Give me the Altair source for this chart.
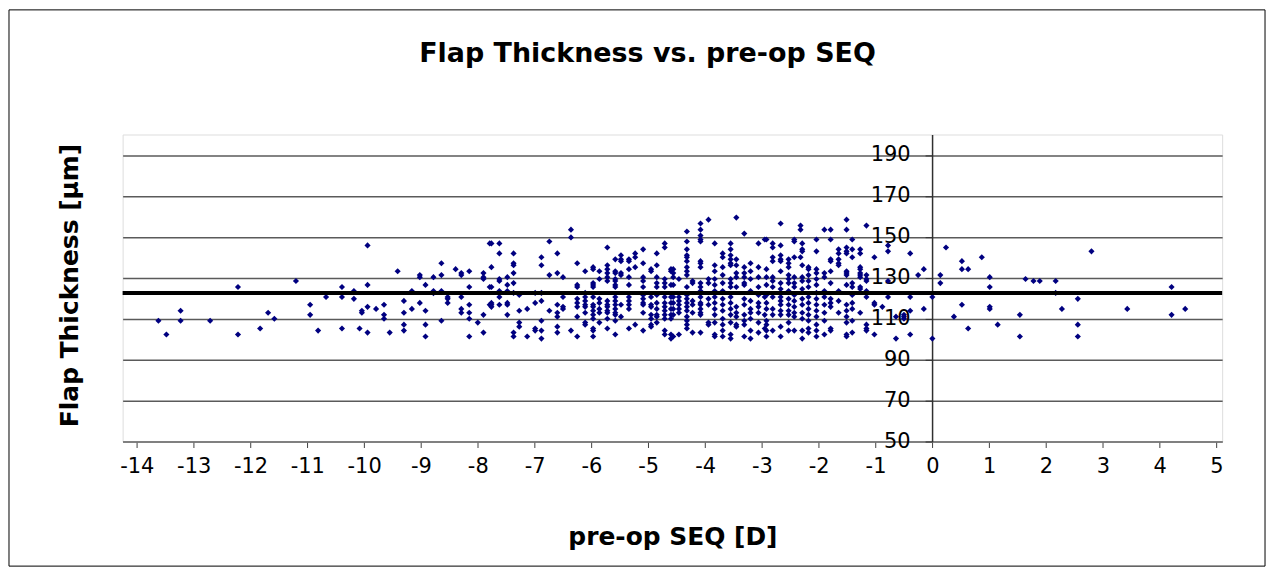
import altair as alt
import pandas as pd

# ---- sparse points, left side ----
left_seq = [-13.62, -13.48, -13.23, -13.23, -12.71, -12.22, -12.22, -11.83, -11.69, -11.58, -11.2,
            -10.95, -10.95, -10.81, -10.67, -10.39, -10.39, -10.39, -10.18, -10.18, -10.08, -10.04,
            -10.04, -9.94, -9.94, -9.94, -9.94, -9.79, -9.65, -9.65, -9.65, -9.55, -9.41]
left_flap = [109, 102.3, 113.9, 109, 109, 125.5, 102.3, 105.2, 112.9, 110, 128.4,
             116.8, 111.9, 104.2, 120.6, 125.5, 120.6, 105.2, 123.5, 119.7, 105.2, 113.9,
             112.9, 145.8, 126.5, 115.8, 103.2, 114.8, 116.8, 111.9, 110, 103.2, 133.2]

# ---- medium density, -9.3 .. -7.8 ----
mid1_seq = [-9.3, -9.3, -9.3, -9.3, -9.16, -9.16, -9.02, -9.02, -9.02, -8.92, -8.92, -8.92, -8.92,
            -8.78, -8.78, -8.78, -8.64, -8.64, -8.64, -8.64, -8.53, -8.53, -8.53, -8.39, -8.29,
            -8.29, -8.29, -8.29, -8.29, -8.15, -8.15, -8.15, -8.15, -8.15, -8.15, -8.0, -7.9,
            -7.9, -7.9, -7.9, -7.9, -7.79, -7.79, -7.79]
mid1_flap = [118.7, 112.9, 107.1, 104.2, 123.5, 114.8, 131.3, 130.3, 117.7, 126.5, 113.9, 107.1, 101.3,
             130.3, 123.5, 122.5, 137.1, 131.3, 123.5, 109, 120.6, 119.7, 117.7, 134.2, 132.3,
             131.3, 120.6, 114.8, 112.9, 133.2, 125.5, 116.8, 112.9, 110, 101.3, 108.1, 132.3,
             130.3, 129.4, 111.9, 103.2, 146.8, 125.5, 116.8]

# ---- medium density, -7.8 .. -6.2 ----
mid2_seq = [-7.76, -7.76, -7.76, -7.76, -7.76, -7.76, -7.62, -7.62, -7.62, -7.62, -7.62, -7.62, -7.62,
            -7.48, -7.48, -7.48, -7.48, -7.48, -7.48, -7.37, -7.37, -7.37, -7.37, -7.37, -7.37,
            -7.37, -7.37, -7.27, -7.27, -7.27, -7.27, -7.13, -7.13, -6.99, -6.99, -6.99, -6.99,
            -6.88, -6.88, -6.88, -6.88, -6.88, -6.88, -6.88, -6.74, -6.74, -6.74, -6.6, -6.6,
            -6.6, -6.6, -6.6, -6.6, -6.6, -6.5, -6.5, -6.5, -6.5, -6.36, -6.36, -6.36, -6.25,
            -6.25, -6.25, -6.25, -6.25, -6.25, -6.25, -6.25]
mid2_flap = [146.8, 135.2, 125.5, 117.7, 116.8, 115.8, 146.8, 141.9, 129.4, 128.4, 123.5, 120.6, 116.8,
             130.3, 126.5, 123.5, 117.7, 116.8, 111.9, 141.9, 137.1, 136.1, 132.3, 127.4, 122.6,
             103.2, 101.3, 121.6, 113.9, 108.1, 106.1, 114.8, 101.3, 122.6, 117.7, 105.2, 104.2,
             140, 136.1, 122.6, 118.7, 109, 104.2, 100.3, 147.7, 131.3, 113.9, 141.9, 132.3,
             116.8, 112.9, 111, 106.1, 103.2, 130.3, 120.6, 115.8, 114.8, 153.5, 149.7, 104.2, 137.1,
             126.5, 125.5, 119.7, 117.7, 115.8, 111, 101.3]

# ---- dense region, columns of points (-6.1 .. 0.25) ----
dense_col_seq = [-6.11, -5.97, -5.86, -5.72, -5.58, -5.48, -5.34, -5.23, -5.09, -4.95, -4.85, -4.71, -4.6,
                 -4.56, -4.46, -4.32, -4.22, -4.08, -3.94, -3.83, -3.69, -3.55, -3.45, -3.31, -3.2,
                 -3.06, -2.95,
                 -2.92, -2.81, -2.67, -2.53, -2.43, -2.32, -2.29, -2.18, -2.04, -1.9, -1.79, -1.65,
                 -1.51, -1.41,
                 -1.27, -1.16, -1.02, -0.88, -0.78, -0.64, -0.5, -0.39, -0.25, -0.15, 0.0, 0.14, 0.24]
dense_col_flap = [
    [133.2, 122.6, 120.6, 118.7, 116.8, 115.8, 112.9, 108.1, 107.1],
    [135.2, 134.2, 127.4, 126.5, 125.5, 120.6, 116.8, 115.8, 113.9, 111.9, 110, 105.2, 104.2, 101.3],
    [133.2, 129.4, 119.7, 117.7, 114.8, 112.9, 108.1],
    [144.8, 136.1, 134.2, 132.3, 130.3, 128.4, 118.7, 116.8, 115.8, 113.9, 112.9, 110, 105.2],
    [139, 133.2, 132.3, 129.4, 128.4, 126.5, 125.5, 120.6, 118.7, 116.8, 114.8, 112.9, 111.9, 109, 102.3],
    [141, 139, 138.1, 132.3, 131.3, 116.8, 111],
    [139, 138.1, 134.2, 130.3, 126.5, 120.6, 118.7, 116.8, 114.8, 105.2],
    [141.9, 140, 135.2, 107.1],
    [143.9, 137.1, 130.3, 128.4, 125.5, 121.6, 119.7, 117.7, 116.8, 112.9, 104.2],
    [134.2, 133.2, 120.6, 116.8, 115.8, 111.9, 110, 107.1, 106.1],
    [141.9, 136.1, 130.3, 127.4, 125.5, 121.6, 117.7, 114.8, 111.9, 111, 108.1],
    [146.8, 144.8, 129.4, 127.4, 125.5, 120.6, 117.7, 115.8, 113.9, 111.9, 110, 104.2, 102.3],
    [134.2, 133.2, 126.5, 120.6, 117.7, 114.8, 111.9, 110, 102.3, 100.3],
    [134.2, 132.3, 130.3, 126.5, 120.6, 117.7, 114.8, 111.9, 101.3],
    [129.4, 120.6, 118.7, 116.8, 114.8, 112.9, 102.3],
    [152.6, 147.7, 143.9, 141, 140, 138.1, 135.2, 133.2, 131.3, 125.5, 121.6, 119.7, 117.7, 115.8,
     113.9, 111, 109, 107.1, 105.2],
    [128.4, 127.4, 118.7, 116.8, 112.9, 103.2],
    [156.5, 153.5, 150.6, 148.7, 147.7, 138.1, 137.1, 135.2, 127.4, 125.5, 123.5, 120.6, 117.7, 116.8,
     114.8, 112.9, 111.9, 103.2],
    [158.4, 129.4, 127.4, 119.7, 116.8, 108.1, 107.1],
    [146.8, 136.1, 133.2, 129.4, 126.5, 123.5, 120.6, 117.7, 114.8, 111.9, 108.1, 102.3, 101.3],
    [141.9, 140, 135.2, 131.3, 127.4, 123.5, 119.7, 116.8, 113.9, 110, 107.1, 104.2, 101.3],
    [146.8, 143.9, 141, 139, 137.1, 136.1, 129.4, 127.4, 125.5, 120.6, 117.7, 114.8, 111.9, 108.1,
     102.3, 100.3],
    [159.4, 139, 136.1, 132.3, 130.3, 125.5, 115.8, 112.9, 111, 107.1, 106.1],
    [151.6, 135.2, 132.3, 130.3, 127.4, 126.5, 119.7, 116.8, 111.9, 109, 107.1, 101.3],
    [137.1, 133.2, 129.4, 123.5, 118.7, 114.8, 112.9, 110, 104.2, 100.3],
    [146.8, 135.2, 130.3, 125.5, 121.6, 117.7, 115.8, 112.9, 108.1, 103.2],
    [148.7, 120.6, 111.9, 105.2],
    [148.7, 134.2, 130.3, 126.5, 121.6, 117.7, 114.8, 109, 107.1, 104.2, 101.3],
    [146.8, 144.8, 140, 138.1, 130.3, 128.4, 125.5, 120.6, 114.8, 111.9, 104.2],
    [156.5, 145.8, 141, 139, 138.1, 133.2, 127.4, 124.5, 120.6, 118.7, 116.8, 113.9, 111.9, 106.1, 101.3],
    [139, 137.1, 135.2, 131.3, 129.4, 127.4, 123.5, 119.7, 116.8, 113.9, 111.9, 108.1, 104.2],
    [148.7, 147.7, 140, 130.3, 127.4, 125.5, 121.6, 118.7, 115.8, 112.9, 111, 104.2],
    [155.5, 153.5, 140],
    [146.8, 143.9, 142.9, 136.1, 130.3, 128.4, 124.5, 119.7, 116.8, 112.9, 110, 104.2, 100.3],
    [135.2, 134.2, 131.3, 128.4, 125.5, 120.6, 117.7, 114.8, 111.9, 109, 105.2, 103.2],
    [148.7, 142.9, 134.2, 132.3, 129.4, 126.5, 122.6, 119.7, 116.8, 113.9, 111, 107.1, 104.2, 101.3],
    [153.5, 132.3, 130.3, 123.5, 120.6, 116.8, 112.9, 109, 102.3],
    [153.5, 148.7, 139, 138.1, 133.2, 127.4, 119.7, 117.7, 115.8, 105.2, 104.2],
    [143.9, 141.9, 139, 137.1, 136.1, 123.5, 118.7, 112.9],
    [158.4, 153.5, 144.8, 142.9, 141.9, 133.2, 132.3, 131.3, 126.5, 116.8, 113.9, 111, 108.1, 102.3, 101.3],
    [148.7, 143.9, 140, 127.4, 125.5, 121.6, 117.7, 114.8, 109, 103.2],
    [143.9, 141.9, 135.2, 134.2, 132.3, 131.3, 130.3, 125.5, 124.5, 112.9],
    [155.5, 131.3, 129.4, 128.4, 123.5, 120.6, 107.1, 105.2, 104.2],
    [140, 117.7, 116.8, 102.3],
    [115.8],
    [145.8, 142.9, 128.4, 120.6],
    [111, 100.3],
    [111.9, 111, 110],
    [141.9, 120.6, 113.9, 102.3],
    [131.3],
    [134.2, 114.8],
    [120.6, 100.3],
    [131.3, 127.4],
    [144.8],
]

# ---- sparse points, right side ----
right_seq = [0.38, 0.52, 0.52, 0.52, 0.63, 0.63, 0.87, 1.01, 1.01, 1.01, 1.01, 1.15, 1.54, 1.54,
             1.64, 1.78, 1.89, 2.17, 2.17, 2.28, 2.56, 2.56, 2.56, 2.8, 3.43, 4.21, 4.21, 4.45]
right_flap = [111, 138.1, 134.2, 116.8, 134.2, 105.2, 140, 130.3, 125.5, 115.8, 114.8, 107.1, 111.9, 101.3,
              129.4, 128.4, 128.4, 128.4, 122.6, 114.8, 119.7, 107.1, 101.3, 142.9, 114.8, 125.5, 111.9, 114.8]

mean_flap = [122.6]

x_ticks = list(range(-14, 6))
y_ticks = [50, 70, 90, 110, 130, 150, 170, 190]

# ---- build table ----
seq_all = left_seq + mid1_seq + mid2_seq + right_seq
flap_all = left_flap + mid1_flap + mid2_flap + right_flap
for xv, ys in zip(dense_col_seq, dense_col_flap):
    seq_all += [xv] * len(ys)
    flap_all += ys
points = pd.DataFrame({"seq": seq_all, "flap": flap_all})
mean_df = pd.DataFrame({"flap": mean_flap})

FONT = "DejaVu Sans"
W, H = 1103, 308

x_enc = alt.X(
    "seq:Q",
    scale=alt.Scale(domain=[-14.25, 5.1], nice=False, zero=False),
    axis=alt.Axis(
        values=x_ticks, title="pre-op SEQ [D]", grid=False,
        labelExpr="'' + datum.value",
        labelFontSize=21, labelFont=FONT, labelColor="black", labelPadding=8,
        tickSize=6, tickColor="#404040", domainColor="#808080", domainWidth=1.5,
        titleFontSize=25, titleFont=FONT, titleFontWeight="bold", titleColor="black",
        titleBaseline="alphabetic", titleY=103, labelFlush=False,
    ),
)
y_enc = alt.Y(
    "flap:Q",
    scale=alt.Scale(domain=[50, 200], nice=False, zero=False),
    axis=alt.Axis(
        values=y_ticks, title="Flap Thickness [µm]", grid=True,
        gridColor="#5a5a5a", gridWidth=1.5, offset=-812,
        labelFontSize=21, labelFont=FONT, labelColor="black", labelPadding=15,
        tickSize=7, tickColor="#303030", domainColor="#303030", domainWidth=1.5,
        titleFontSize=25, titleFont=FONT, titleFontWeight="bold", titleColor="black",
        titleBaseline="alphabetic", titleX=-857, titleY=151, labelFlush=False,
    ),
)

pts = alt.Chart(points).mark_point(
    shape="diamond", filled=True, color="#000080", size=38, opacity=1
).encode(x=x_enc, y=y_enc)

mean_line = alt.Chart(mean_df).mark_rule(color="black", strokeWidth=4).encode(y=y_enc)

border = alt.Chart(mean_df).mark_rect(
    fill=None, stroke="black", strokeWidth=1, clip=False
).encode(
    x=alt.value(-114), x2=alt.value(1146), y=alt.value(-125), y2=alt.value(433)
)

chart = alt.layer(pts, mean_line, border).properties(
    width=W, height=H,
    title=alt.TitleParams(
        "Flap Thickness vs. pre-op SEQ", font=FONT, fontSize=27, fontWeight="bold",
        color="black", anchor="middle", frame="group", dx=-25, offset=-80,
        baseline="alphabetic",
    ),
    autosize=alt.AutoSizeParams(type="none"),
    padding={"left": 115, "top": 126, "right": 48, "bottom": 128},
).configure_view(
    fill="#C0C0C0", stroke="#808080", strokeWidth=1.5
).configure(background="white")

chart.save("out.html", embed_options={"renderer": "svg", "actions": False})
